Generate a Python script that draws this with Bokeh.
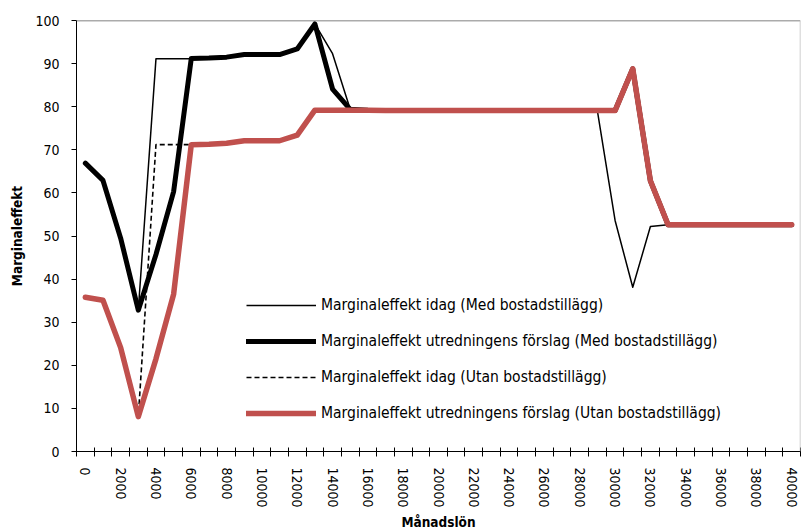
from bokeh.plotting import figure
from bokeh.models import Range1d, FixedTicker, Span, Legend, LegendItem
from bokeh.embed import file_html
from bokeh.resources import INLINE

# Månadslön (kr), categories 0..40000 step 1000
salary = [0, 1000, 2000, 3000, 4000, 5000, 6000, 7000, 8000, 9000,
          10000, 11000, 12000, 13000, 14000, 15000, 16000, 17000, 18000, 19000,
          20000, 21000, 22000, 23000, 24000, 25000, 26000, 27000, 28000, 29000,
          30000, 31000, 32000, 33000, 34000, 35000, 36000, 37000, 38000, 39000,
          40000]

idag_med = [66.9, 62.9, 49.5, 32.8, 91.1, 91.1, 91.1, 91.3, 91.5, 92.1,
            92.1, 92.1, 93.4, 99.2, 92.3, 79.4, 79.2, 79.1, 79.1, 79.1,
            79.1, 79.1, 79.1, 79.1, 79.1, 79.1, 79.1, 79.1, 79.1, 79.0,
            53.6, 38.1, 52.2, 52.6, 52.6, 52.6, 52.6, 52.6, 52.6, 52.6,
            52.6]

forslag_med = [66.9, 62.9, 49.5, 32.8, 45.7, 60.3, 91.2, 91.3, 91.5, 92.1,
               92.1, 92.1, 93.4, 99.2, 84.1, 79.4, 79.2, 79.1, 79.1, 79.1,
               79.1, 79.1, 79.1, 79.1, 79.1, 79.1, 79.1, 79.1, 79.1, 79.1,
               79.1, 88.8, 62.8, 52.6, 52.6, 52.6, 52.6, 52.6, 52.6, 52.6,
               52.6]

idag_utan = [35.8, 35.1, 24.1, 8.1, 71.2, 71.2, 71.2, 71.3, 71.5, 72.1,
             72.1, 72.1, 73.4, 79.2, 79.2, 79.2, 79.2, 79.1, 79.1, 79.1,
             79.1, 79.1, 79.1, 79.1, 79.1, 79.1, 79.1, 79.1, 79.1, 79.1,
             79.1, 88.8, 62.8, 52.6, 52.6, 52.6, 52.6, 52.6, 52.6, 52.6,
             52.6]

forslag_utan = [35.8, 35.1, 24.1, 8.1, 21.5, 36.5, 71.2, 71.3, 71.5, 72.1,
                72.1, 72.1, 73.4, 79.2, 79.2, 79.2, 79.2, 79.1, 79.1, 79.1,
                79.1, 79.1, 79.1, 79.1, 79.1, 79.1, 79.1, 79.1, 79.1, 79.1,
                79.1, 88.8, 62.8, 52.6, 52.6, 52.6, 52.6, 52.6, 52.6, 52.6,
                52.6]

x_tick_values = [0, 2000, 4000, 6000, 8000, 10000, 12000, 14000, 16000, 18000,
                 20000, 22000, 24000, 26000, 28000, 30000, 32000, 34000, 36000,
                 38000, 40000]
y_tick_values = [0, 10, 20, 30, 40, 50, 60, 70, 80, 90, 100]

labels = ["Marginaleffekt idag (Med bostadstillägg)",
          "Marginaleffekt utredningens förslag (Med bostadstillägg)",
          "Marginaleffekt idag (Utan bostadstillägg)",
          "Marginaleffekt utredningens förslag (Utan bostadstillägg)"]

FONT = "DejaVu Sans Condensed"
RED = "#C0504D"

p = figure(width=802, height=532, output_backend="svg", toolbar_location=None,
           x_range=Range1d(-500, 40500), y_range=Range1d(0, 100),
           min_border_left=76, min_border_right=2, min_border_top=20,
           min_border_bottom=81)
p.outline_line_color = None
p.xgrid.visible = False
p.ygrid.visible = False
p.background_fill_color = "white"
p.border_fill_color = "white"

# category boundaries as minor ticks
minor = [s - 500 for s in salary] + [salary[-1] + 500]
p.xaxis.ticker = FixedTicker(ticks=x_tick_values, minor_ticks=minor)
p.xaxis.major_tick_in = 0
p.xaxis.major_tick_out = 0
p.xaxis.minor_tick_in = 4
p.xaxis.minor_tick_out = 5
p.xaxis.minor_tick_line_color = "black"
p.xaxis.axis_line_color = "black"
p.xaxis.major_label_orientation = "vertical"
p.xaxis.major_label_standoff = 11
p.xaxis.major_label_text_font = FONT
p.xaxis.major_label_text_font_size = "14px"
p.xaxis.major_label_text_color = "black"
p.xaxis.axis_label = "Månadslön"
p.xaxis.axis_label_text_font = FONT
p.xaxis.axis_label_text_font_style = "bold"
p.xaxis.axis_label_text_font_size = "13.5px"
p.xaxis.axis_label_text_color = "black"
p.xaxis.axis_label_standoff = 3

p.yaxis.ticker = FixedTicker(ticks=y_tick_values, minor_ticks=[])
p.yaxis.major_tick_in = 0
p.yaxis.major_tick_out = 5
p.yaxis.axis_line_color = "black"
p.yaxis.major_tick_line_color = "black"
p.yaxis.major_label_standoff = 12
p.yaxis.major_label_text_font = FONT
p.yaxis.major_label_text_font_size = "14px"
p.yaxis.major_label_text_color = "black"
p.yaxis.axis_label = "Marginaleffekt"
p.yaxis.axis_label_text_font = FONT
p.yaxis.axis_label_text_font_style = "bold"
p.yaxis.axis_label_text_font_size = "13.5px"
p.yaxis.axis_label_text_color = "black"
p.yaxis.axis_label_standoff = 7

p.add_layout(Span(location=100, dimension="width", line_color="#595959", line_width=1.5))
p.add_layout(Span(location=40500, dimension="height", line_color="#bfbfbf", line_width=1.5))

r1 = p.line(salary, idag_med, line_color="black", line_width=1.5, line_join="round")
r2 = p.line(salary, forslag_med, line_color="black", line_width=5, line_join="round", line_cap="round")
r3 = p.line(salary, idag_utan, line_color="black", line_width=1.6, line_dash="5 3")
r4 = p.line(salary, forslag_utan, line_color=RED, line_width=5.5, line_join="round", line_cap="round")

legend = Legend(items=[LegendItem(label=labels[0], renderers=[r1]),
                       LegendItem(label=labels[1], renderers=[r2]),
                       LegendItem(label=labels[2], renderers=[r3]),
                       LegendItem(label=labels[3], renderers=[r4])],
                location=(170, 28), orientation="vertical",
                glyph_width=70, glyph_height=20, label_height=20,
                label_standoff=5, spacing=16, padding=0, margin=0,
                border_line_color=None, background_fill_alpha=0,
                label_text_font=FONT, label_text_font_size="15.5px",
                label_text_color="black")
p.add_layout(legend, "center")

open("out.html", "w").write(file_html(p, INLINE))
